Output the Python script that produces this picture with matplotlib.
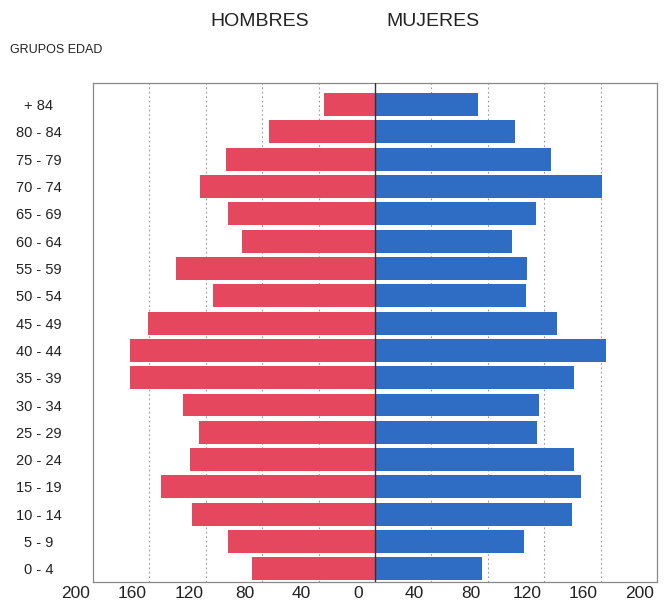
#!/usr/bin/env python3
"""Population pyramid by age group (Hombres / Mujeres)."""

import matplotlib
matplotlib.use('Agg')
import matplotlib.pyplot as plt
import matplotlib.transforms as mtransforms
import numpy as np

plt.rcParams['font.family'] = ['Liberation Sans', 'DejaVu Sans']

grupos = ['0 - 4', '5 - 9', '10 - 14', '15 - 19', '20 - 24', '25 - 29', '30 - 34',
          '35 - 39', '40 - 44', '45 - 49', '50 - 54', '55 - 59', '60 - 64',
          '65 - 69', '70 - 74', '75 - 79', '80 - 84', '+ 84']
hombres = [87, 104, 130, 152, 131, 125, 136, 174, 174, 161, 115, 141, 94,
           104, 124, 106, 75, 36]
mujeres = [76, 106, 140, 146, 141, 115, 116, 141, 164, 129, 107, 108, 97,
           114, 161, 125, 99, 73]
xticks = [-200, -160, -120, -80, -40, 0, 40, 80, 120, 160, 200]

RED = '#E4475E'
BLUE = '#2F6CC4'

fig = plt.figure(figsize=(6.69, 6.04), dpi=100)
ax = fig.add_axes([93 / 669, 1 - 582 / 604, 564 / 669, 499 / 604])

y = np.arange(len(grupos))
ax.barh(y, [-v for v in hombres], height=0.84, color=RED, zorder=2)
ax.barh(y, mujeres, height=0.84, color=BLUE, zorder=2)
ax.axvline(0, color='#333333', lw=1.0, zorder=3)

ax.set_xlim(-200, 200)
ax.set_ylim(-0.48, len(grupos) - 1 + 0.79)

# bottom labels drawn by hand: in the scanned original they sit left of the gridlines
ax.set_xticks(xticks)
ax.set_xticklabels([])
ax.tick_params(axis='x', length=0)
base = mtransforms.blended_transform_factory(ax.transData, ax.transAxes)
shift = mtransforms.ScaledTranslation(-17 / 100, -4 / 100, fig.dpi_scale_trans)
for t in xticks:
    ax.text(t, 0, str(abs(t)), transform=base + shift, ha='center', va='top',
            fontsize=12.5, color='#222222', clip_on=False)

ax.set_yticks(y)
ax.set_yticklabels(grupos, fontsize=10.5, color='#222222', ha='center')
ax.tick_params(axis='y', length=0, pad=39)

for t in xticks:
    if t not in (-200, 0, 200):
        ax.axvline(t, color='#999999', lw=0.8, ls=(0, (1.5, 2.5)), zorder=1)

for s in ax.spines.values():
    s.set_color('#888888')
    s.set_linewidth(0.9)

fig.text(260 / 669, 1 - 22 / 604, 'HOMBRES', fontsize=14, ha='center', va='center',
         color='#222222')
fig.text(433 / 669, 1 - 22 / 604, 'MUJERES', fontsize=14, ha='center', va='center',
         color='#222222')
fig.text(10 / 669, 1 - 50 / 604, 'GRUPOS EDAD', fontsize=9, ha='left', va='center',
         color='#222222')

plt.savefig('out.png', dpi=100, facecolor='white')
plt.close()
